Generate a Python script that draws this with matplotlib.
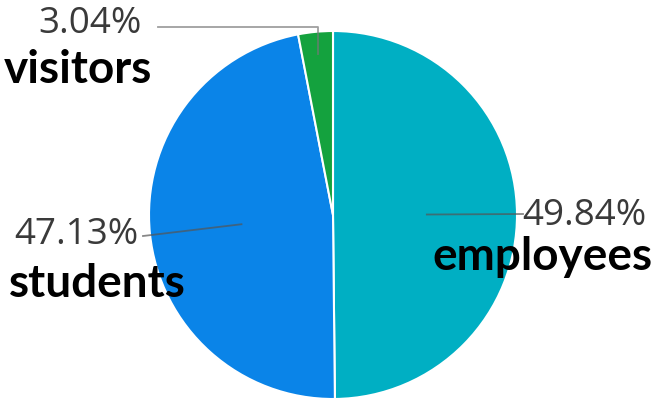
import matplotlib
matplotlib.use("Agg")
import matplotlib.pyplot as plt
import numpy as np

categories = ["employees", "students", "visitors"]
values = [49.84, 47.13, 3.04]
pct_labels = ["49.84%", "47.13%", "3.04%"]
colors = ["#00AFC3", "#0A84E8", "#14A23E"]

W, H = 651, 400
cx, cy, R = 333, 215, 184

fig = plt.figure(figsize=(W / 100, H / 100), dpi=100)
ax = fig.add_axes([0, 0, 1, 1])
ax.set_aspect("equal")
ax.axis("off")

wedges, _ = ax.pie(values, colors=colors, startangle=90, counterclock=False,
                   radius=1.0, center=(0, 0),
                   wedgeprops=dict(edgecolor="white", linewidth=1.5))
ax.set_xlim(-cx / R, (W - cx) / R)
ax.set_ylim(-(H - cy) / R, cy / R)


def px(x, y):
    return ((x - cx) / R, (cy - y) / R)


def mid(w):
    a = np.deg2rad((w.theta1 + w.theta2) / 2)
    return np.cos(a), np.sin(a)

pct_font = dict(family="Open Sans", fontsize=26.5, color="#3a3a3a")
name_font = dict(family="Lato", fontsize=33, fontweight="bold", color="black")
line_kw = dict(color="#555555", lw=1.3, alpha=0.7)

# employees
c, s = mid(wedges[0])
sx, sy = 0.51 * c, 0.51 * s
ex, ey = px(523, 214)
ax.plot([sx, ex], [sy, ey], **line_kw)
ax.text(*px(522, 216), pct_labels[0], ha="left", va="center", **pct_font)
ax.text(*px(432, 270), categories[0], ha="left", va="baseline", **name_font)

# students
c, s = mid(wedges[1])
sx, sy = 0.5 * c, 0.5 * s
ex, ey = px(143, 236)
ax.plot([sx, ex], [sy, ey], **line_kw)
ax.text(*px(139, 235), pct_labels[1], ha="right", va="center", **pct_font)
ax.text(*px(9, 297), categories[1], ha="left", va="baseline", **name_font)

# visitors
c, s = mid(wedges[2])
sx, sy = 0.88 * c, 0.88 * s
kx, ky = sx, px(0, 27)[1]
ex, ey = px(158, 27)
ax.plot([sx, kx, ex], [sy, ky, ey], **dict(line_kw, color="#777777"))
ax.text(*px(142, 24), pct_labels[2], ha="right", va="center", **pct_font)
ax.text(*px(4, 83), categories[2], ha="left", va="baseline", **name_font)

fig.savefig("out.png", dpi=100)
